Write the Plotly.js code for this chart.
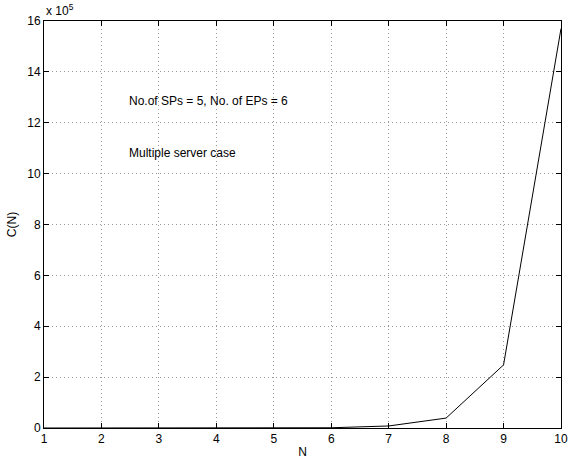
<!DOCTYPE html>
<html><head><meta charset="utf-8">
<script src="https://cdn.plot.ly/plotly-3.0.1.min.js"></script>
<style>html,body{margin:0;padding:0;background:#fff}</style>
</head><body><div id="chart" style="width:577px;height:459px"></div>
<script>
const N = [1, 2, 3, 4, 5, 6, 7, 8, 9, 10];
const C = [0, 0, 0, 0.0005, 0.002, 0.01, 0.08, 0.39, 2.48, 15.7]; // in units of 1e5
const xTicks = [1, 2, 3, 4, 5, 6, 7, 8, 9, 10];
const yTicks = [0, 2, 4, 6, 8, 10, 12, 14, 16];
const notes = ["No.of SPs = 5, No. of EPs = 6", "Multiple server case"];
const notePos = [[2.44, 12.85], [2.44, 10.83]];

const font = {family: "Liberation Sans, Arial, sans-serif", size: 12, color: "#000"};
const axisBase = {
  showline: true, linecolor: "#000", linewidth: 1, mirror: "ticks",
  ticks: "inside", ticklen: 5, tickcolor: "#000",
  showgrid: true, gridcolor: "#999", griddash: "1px,3px", gridwidth: 1,
  zeroline: false, tickfont: font
};
const layout = {
  width: 577, height: 459,
  margin: {l: 44, r: 16, t: 21, b: 31},
  paper_bgcolor: "#fff", plot_bgcolor: "#fff",
  showlegend: false, font: font,
  xaxis: Object.assign({}, axisBase, {range: [1, 10], tickvals: xTicks,
    title: {text: "N", font: font, standoff: 3}}),
  yaxis: Object.assign({}, axisBase, {range: [0, 16], tickvals: yTicks,
    title: {text: "C(N)", font: font, standoff: 8}}),
  annotations: notes.map((t, i) => ({x: notePos[i][0], y: notePos[i][1], xref: "x", yref: "y",
    text: t, showarrow: false, xanchor: "left", yanchor: "middle", font: font}))
    .concat([{x: 0, y: 1, xref: "paper", yref: "paper", text: "x 10<sup>5</sup>",
      showarrow: false, xanchor: "left", yanchor: "bottom", yshift: 1, font: font}])
};
Plotly.newPlot("chart", [{x: N, y: C, type: "scatter", mode: "lines",
  line: {color: "#000", width: 1}, cliponaxis: true}], layout, {staticPlot: true});
</script></body></html>
